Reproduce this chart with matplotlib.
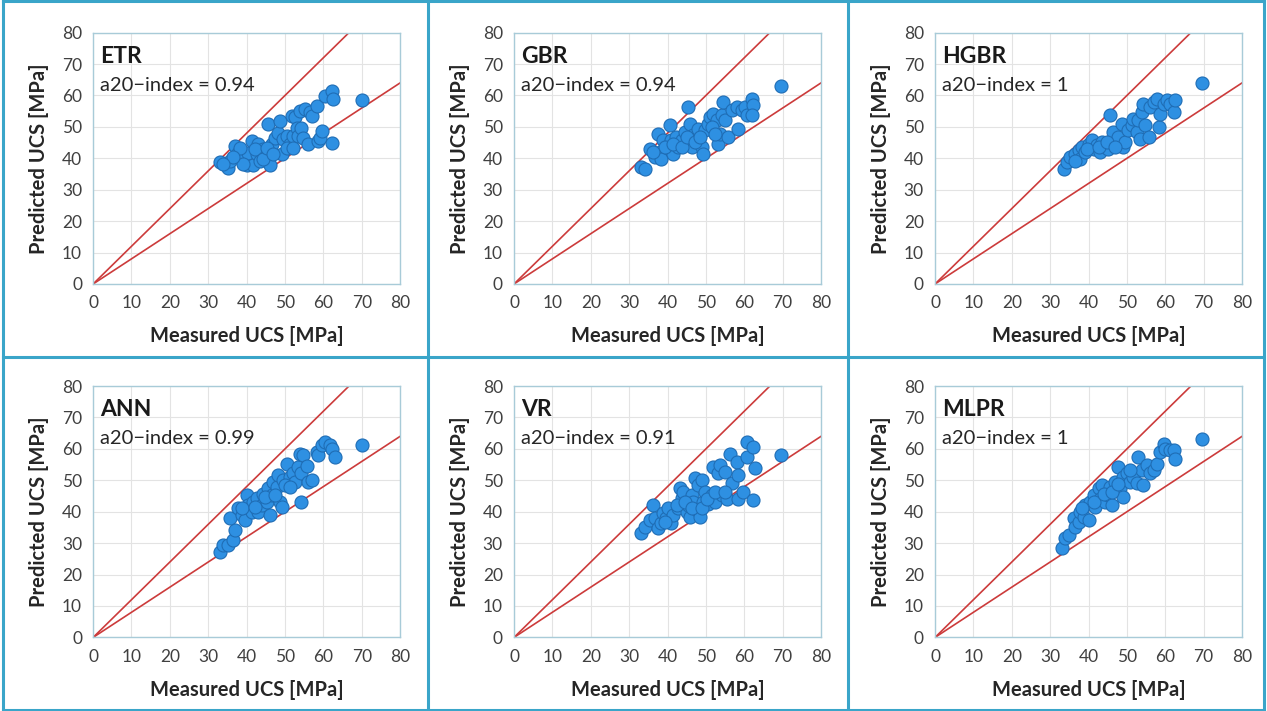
import matplotlib
matplotlib.use("Agg")
from matplotlib import pyplot as plt
from matplotlib.lines import Line2D

plt.rcParams['font.family'] = ['Lato', 'DejaVu Sans']

# ---- data (measured, predicted) ----
models = ['ETR', 'GBR', 'HGBR', 'ANN', 'VR', 'MLPR']
a20 = ['0.94', '0.94', '1', '0.99', '0.91', '1']

etr_meas = [33, 35.2, 35.6, 37, 37.8, 38.7, 40, 40.4, 41.3, 41.7, 42.6, 43, 43.5, 44.3,
            45.2, 45.6, 46, 46.5, 47.4, 48.3, 48.7, 49.1, 49.6, 50.4, 51.3, 51.7, 52.2,
            52.6, 53, 53.5, 53.9, 54.3, 54.8, 55.2, 56.5, 57, 56, 58.3, 58.7, 59.1, 59.6,
            60.4, 62.2, 62.6, 62.2, 70, 38.3, 42.2, 39.1, 44.3, 45.2, 47, 50.4, 52.2,
            36.5, 33.9]
etr_pred = [38.7, 37, 39, 44, 41.8, 40.3, 38, 41.8, 45.5, 38, 41.3, 44.5, 39.2, 42.9,
            40.3, 50.8, 38, 44.5, 46.6, 48.2, 51.9, 41.3, 46, 47, 44.5, 53.5, 47.2,
            53, 49.8, 47, 55, 49.8, 46.6, 55.6, 54.6, 53.5, 44.5, 56.7, 45.5, 46.6, 48.7,
            59.9, 61.4, 58.8, 45, 58.5, 43.4, 42.9, 38.1, 39.7, 43.4, 41.3, 43.4, 43.4,
            40.3, 38.1]

gbr_meas = [33.2, 34.1, 35.4, 36.7, 37.6, 38, 38.4, 38.9, 39.7, 40.6, 41, 41.5, 42.3,
            42.8, 43.7, 44.5, 45.4, 45.8, 46.3, 46.7, 47.6, 48, 48.9, 49.3, 49.7, 50.6,
            51, 51.9, 52.8, 53.2, 53.6, 54.1, 54.5, 55, 55.8, 56.7, 58, 58.4, 59.3, 60.2,
            60.6, 61.9, 62.3, 61.9, 69.7, 39.3, 41.5, 43.8, 45.2, 47.1, 48.4, 51.5, 52.3,
            36.2]
gbr_pred = [37.2, 36.7, 43, 40.4, 47.8, 42, 39.9, 45.7, 43.6, 50.5, 45.7, 41.4, 46.8,
            43.6, 45.7, 48.4, 56.3, 51, 43.6, 47.3, 45.2, 49.4, 43.6, 41.4, 48.9, 51,
            53.1, 54.2, 52.1, 44.6, 47.8, 53.7, 57.9, 52.1, 46.8, 55.3, 56.3, 49.4, 55.3,
            56.3, 53.7, 59, 56.9, 53.7, 63, 43.6, 44.6, 43.6, 46.8, 45.2, 46.8, 50, 47.8,
            42]

hgbr_meas = [33.5, 34.3, 35.2, 36.5, 37.4, 37.8, 38.3, 39.1, 40, 40.9, 41.3, 42.2, 43,
             43.5, 44.3, 45.2, 45.7, 46.1, 46.5, 47.4, 47.8, 48.7, 49.1, 49.6, 50.4,
             51.3, 51.7, 52.6, 53, 53.5, 53.9, 54.3, 54.8, 55.7, 56.1, 57, 57.8, 58.3,
             58.7, 59.6, 60.4, 61.3, 62.2, 62.6, 69.6, 39.6, 42.6, 44.8, 47, 36.5]
hgbr_pred = [36.7, 38.8, 40.4, 41.4, 42.5, 39.9, 43.6, 42, 44.6, 45.7, 43, 44.1, 42,
             45.2, 43.6, 43, 53.7, 45.7, 48.4, 44.6, 46.8, 51, 43.6, 45.2, 48.9,
             50.5, 52.6, 48.4, 52.1, 46.2, 54.7, 57.4, 50.5, 46.8, 56.3, 57.9, 59, 49.9,
             54.2, 57.4, 58.5, 57.4, 54.7, 58.5, 64, 43, 43.6, 45.2, 43.6, 39.3]

ann_meas = [33, 33.9, 35.2, 36.5, 37, 35.7, 37.8, 38.7, 39.6, 40, 40.4, 41.3, 41.7,
            42.6, 43, 43.9, 44.3, 45.2, 45.7, 46.1, 46.5, 47, 47.8, 48.3, 48.7, 49.1,
            49.6, 50.4, 51.3, 52.2, 52.6, 53.5, 53.9, 54.3, 54.3, 54.8, 55.7, 56.1, 57,
            58.3, 58.7, 59.6, 60.4, 61.7, 62.2, 63, 70, 38.7, 42.2, 44.8, 47.4, 50, 51.3]
ann_pred = [27.3, 29.4, 29.4, 31, 34.2, 37.9, 41.1, 38.9, 37.4, 45.3, 42.1, 40, 43.2,
            44.4, 40, 42.1, 45.8, 43.2, 47.4, 38.9, 45.3, 49.5, 47.9, 51.6, 43.2, 41.6,
            50, 55.3, 51.1, 52.2, 49.5, 54.1, 58.5, 52.2, 43.2, 58, 54.7, 49.5, 50,
            59, 58, 61.2, 62.2, 61.2, 60.1, 57.5, 61.4, 41.1, 41.6, 44.8, 45.3, 48.5, 47.9]

vr_meas = [33.2, 34.1, 35.4, 36.3, 36.7, 37.6, 38.4, 38.9, 39.7, 40.2, 41, 41.5, 42.8,
           43.2, 43.7, 44.1, 45, 45.4, 45.9, 46.3, 46.7, 47.1, 47.6, 48, 48.4, 48.9,
           49.3, 49.7, 50.6, 51.5, 51.9, 52.3, 53.2, 53.6, 54.1, 55, 55.4, 56.3, 56.7,
           58, 58.4, 58.4, 59.7, 60.6, 60.6, 62.3, 62.3, 62.8, 69.7, 39.3, 42.4, 44.6,
           46.3, 48.9, 50.2, 52.3, 55]
vr_pred = [33.1, 35.2, 37.4, 42.1, 37.9, 34.7, 36.3, 39.5, 37.9, 41.1, 36.3, 38.9, 41.1,
           47.4, 44.4, 46.3, 40, 42.1, 38.4, 45.3, 43.2, 50.6, 40.5, 48.5, 38.4, 50,
           43.2, 46.3, 42.6, 45.3, 54.3, 43.2, 52.2, 54.8, 45.3, 52.8, 44.2, 58.5, 49,
           55.9, 51.6, 44.2, 46.3, 62.2, 57.5, 60.6, 43.7, 53.8, 58.2, 36.8, 42.1, 43.2,
           41.1, 41.1, 44.2, 46.3, 46.3]

mlpr_meas = [33, 33.9, 34.8, 36.1, 36.5, 37.4, 37.8, 38.7, 39.1, 40, 40.4, 41.3, 41.7,
             42.6, 43, 43.5, 44.3, 45.2, 45.7, 46.1, 47, 47.8, 48.3, 49.1, 49.1, 50,
             50.9, 51.7, 52.6, 53, 53.9, 54.3, 55.2, 56.1, 57, 57.8, 58.7, 59.6, 60,
             61.3, 62.2, 62.6, 69.6, 38.3, 41.3, 43.9, 46.1, 47.8, 50.9]
mlpr_pred = [28.4, 31.5, 32.6, 37.9, 35.2, 36.8, 40, 38.4, 42.1, 37.4, 43.2, 45.3, 41.6,
             47.4, 44.2, 48.5, 43.2, 45.3, 47.9, 42.1, 49.5, 54.3, 47.4, 44.8, 51.1, 52.2,
             49.5, 51.1, 49, 57.5, 53.2, 48.5, 54.8, 52.2, 53.2, 55.3, 59, 61.7, 60.1,
             59.6, 59.6, 56.9, 63.3, 41.1, 43.2, 45.8, 46.3, 48.9, 53.2]

measured = [etr_meas, gbr_meas, hgbr_meas, ann_meas, vr_meas, mlpr_meas]
predicted = [etr_pred, gbr_pred, hgbr_pred, ann_pred, vr_pred, mlpr_pred]

ticks = [0, 10, 20, 30, 40, 50, 60, 70, 80]
line_x = [0, 80]

fig = plt.figure(figsize=(12.67, 7.11), dpi=100)

lefts = [0.0735, 0.4057, 0.738]
bottoms = [0.6006, 0.1035]
w, h = 0.2423, 0.3535

for i in range(6):
    r, c = divmod(i, 3)
    ax = fig.add_axes([lefts[c], bottoms[r], w, h])
    ax.plot(line_x, [1.2 * v for v in line_x], color='#cc3b3b', lw=1.2, zorder=2)
    ax.plot(line_x, [0.8 * v for v in line_x], color='#cc3b3b', lw=1.2, zorder=2)
    ax.scatter(measured[i], predicted[i], s=88, color='#2e90e2', edgecolors='#1f6db5',
               linewidths=0.8, zorder=3)
    ax.set_xlim(0, 80)
    ax.set_ylim(0, 80)
    ax.set_xticks(ticks)
    ax.set_yticks(ticks)
    ax.grid(True, color='#e3e3e3', lw=0.8)
    ax.set_axisbelow(True)
    for s in ax.spines.values():
        s.set_color('#a8cbd8')
        s.set_linewidth(1)
    ax.tick_params(length=0, labelsize=12.5, labelcolor='#404040', pad=8)
    ax.set_xlabel('Measured UCS [MPa]', fontsize=14.5, fontweight='bold', color='#262626',
                  labelpad=11)
    ax.set_ylabel('Predicted UCS [MPa]', fontsize=14.5, fontweight='bold', color='#262626',
                  labelpad=9)
    ax.text(0.022, 0.905, models[i], transform=ax.transAxes, fontsize=16.5,
            fontweight='bold', color='#1a1a1a', va='center')
    ax.text(0.022, 0.79, 'a20\u2212index = ' + a20[i], transform=ax.transAxes,
            fontsize=14.5, color='#262626', va='center')

# panel frames
frame = dict(color='#3aa5c9', lw=2.2, transform=fig.transFigure)
for x in [0.002, 0.3378, 0.6693, 0.998]:
    fig.add_artist(Line2D([x, x], [0.002, 0.998], **frame))
for y in [0.002, 0.4985, 0.998]:
    fig.add_artist(Line2D([0.002, 0.998], [y, y], **frame))

fig.savefig('out.png', dpi=100, facecolor='white')
